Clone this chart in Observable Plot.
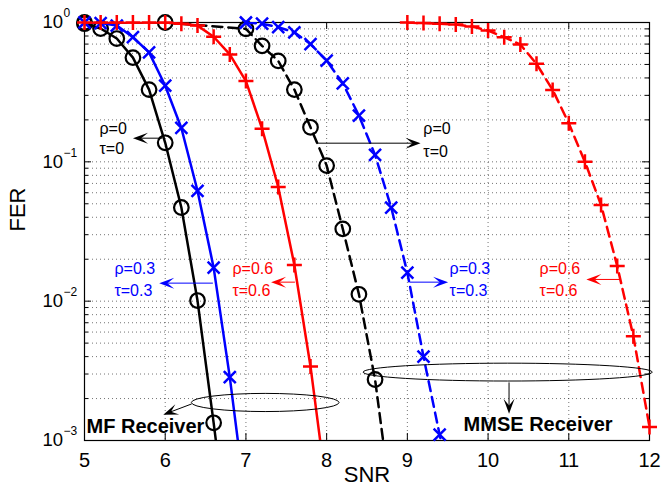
<!DOCTYPE html>
<html>
<head>
<meta charset="utf-8">
<script src="https://cdn.jsdelivr.net/npm/d3@7"></script>
<script src="https://cdn.jsdelivr.net/npm/@observablehq/plot@0.6"></script>
<style>
  html, body { margin: 0; padding: 0; background: #fff; }
</style>
</head>
<body>
<div id="chart"></div>
<script>
// ---------- data ----------
const xTicks = [5, 6, 7, 8, 9, 10, 11, 12];
const xTickLabels = ["5", "6", "7", "8", "9", "10", "11", "12"];
const yMajor = [0.001, 0.01, 0.1, 1];
const yExpLabels = ["\u22123", "\u22122", "\u22121", "0"];
const yMinor = [0.002, 0.003, 0.004, 0.005, 0.006, 0.007, 0.008, 0.009,
                0.02, 0.03, 0.04, 0.05, 0.06, 0.07, 0.08, 0.09,
                0.2, 0.3, 0.4, 0.5, 0.6, 0.7, 0.8, 0.9];

// MF receiver, rho = tau = 0 (black solid, circles)
const snrMF0 = [5.0, 5.2, 5.4, 5.6, 5.8, 6.0, 6.2, 6.4, 6.6, 6.8];
const ferMF0 = [0.98, 0.905, 0.767, 0.56, 0.33, 0.137, 0.047, 0.0101, 0.00134, 0.00016];
// MF receiver, rho = tau = 0.3 (blue solid, x)
const snrMF3 = [5.0, 5.2, 5.4, 5.6, 5.8, 6.0, 6.2, 6.4, 6.6, 6.8, 7.0];
const ferMF3 = [1.0, 0.99, 0.95, 0.784, 0.61, 0.352, 0.175, 0.062, 0.0174, 0.00285, 0.00035];
// MF receiver, rho = tau = 0.6 (red solid, +)
const snrMF6 = [5.0, 5.2, 5.4, 5.6, 5.8, 6.0, 6.2, 6.4, 6.6, 6.8, 7.0, 7.2, 7.4, 7.6, 7.8, 8.0];
const ferMF6 = [1.0, 1.0, 1.0, 1.0, 1.0, 1.0, 0.98, 0.95, 0.79, 0.59, 0.38, 0.173, 0.066, 0.0182, 0.0034, 0.00044];
// MMSE receiver, rho = tau = 0 (black dashed, circles)
const snrMM0 = [5.0, 6.0, 7.0, 7.2, 7.4, 7.6, 7.8, 8.0, 8.2, 8.4, 8.6, 8.8];
const ferMM0 = [1.0, 1.0, 0.9, 0.68, 0.53, 0.33, 0.177, 0.094, 0.033, 0.0112, 0.00274, 0.00036];
// MMSE receiver, rho = tau = 0.3 (blue dashed, x)
const snrMM3 = [7.0, 7.2, 7.4, 7.6, 7.8, 8.0, 8.2, 8.4, 8.6, 8.8, 9.0, 9.2, 9.4, 9.6];
const ferMM3 = [1.0, 0.98, 0.925, 0.85, 0.70, 0.533, 0.366, 0.215, 0.112, 0.047, 0.016, 0.0040, 0.0011, 0.0003];
// MMSE receiver, rho = tau = 0.6 (red dashed, +)
const snrMM6 = [9.0, 9.2, 9.4, 9.6, 9.8, 10.0, 10.2, 10.4, 10.6, 10.8, 11.0, 11.2, 11.4, 11.6, 11.8, 12.0];
const ferMM6 = [1.0, 0.99, 0.979, 0.967, 0.936, 0.876, 0.784, 0.695, 0.505, 0.328, 0.189, 0.100, 0.049, 0.0179, 0.0056, 0.00125];

// annotation texts (data coordinates)
const noteText = ["\u03c1=0", "\u03c4=0", "\u03c1=0", "\u03c4=0",
                  "\u03c1=0.3", "\u03c4=0.3", "\u03c1=0.6", "\u03c4=0.6",
                  "\u03c1=0.3", "\u03c4=0.3", "\u03c1=0.6", "\u03c4=0.6"];
const noteX = [5.186, 5.186, 9.198, 9.198, 5.371, 5.371, 6.833, 6.833, 9.523, 9.523, 10.638, 10.638];
const noteY = [0.173, 0.124, 0.1715, 0.117, 0.01695, 0.01184, 0.01695, 0.01184, 0.01695, 0.01184, 0.01695, 0.01184];
const noteColor = ["black", "black", "black", "black", "blue", "blue", "red", "red", "blue", "blue", "red", "red"];

const rxText = ["MF Receiver", "MMSE Receiver"];
const rxX = [5.025, 9.697];
const rxY = [0.00126, 0.00131];

// annotation arrows (data coordinates)
const arrowX1 = [5.97, 7.9, 6.597, 7.613, 9.037, 11.637, 6.334, 10.266];
const arrowY1 = [0.1466, 0.135, 0.01336, 0.01358, 0.01358, 0.0142, 0.001815, 0.00259];
const arrowX2 = [5.607, 9.17, 5.932, 7.318, 9.511, 11.224, 5.982, 10.266];
const arrowY2 = [0.1466, 0.135, 0.01336, 0.01358, 0.01358, 0.0142, 0.00152, 0.00154];
const arrowColor = ["black", "black", "blue", "red", "blue", "red", "black", "black"];

// annotation ellipses (data-space bounding boxes)
const ellX1 = [6.33, 8.458];
const ellX2 = [8.16, 12.04];
const ellYLow = [0.0016, 0.00265];
const ellYHigh = [0.00216, 0.00356];

// ---------- helpers ----------
const zip = (xs, ys) => xs.map((x, i) => ({snr: x, fer: ys[i]}));
const plusSym = {draw(ctx, size) { const r = Math.sqrt(size / Math.PI); ctx.moveTo(-r, 0); ctx.lineTo(r, 0); ctx.moveTo(0, -r); ctx.lineTo(0, r); }};
const timesSym = {draw(ctx, size) { const r = Math.sqrt(size / Math.PI); ctx.moveTo(-r, -r); ctx.lineTo(r, r); ctx.moveTo(-r, r); ctx.lineTo(r, -r); }};

const series = [
  {d: zip(snrMM0, ferMM0), color: "black", dash: "10,6", kind: "circle"},
  {d: zip(snrMM3, ferMM3), color: "blue",  dash: "10,6", kind: "times"},
  {d: zip(snrMM6, ferMM6), color: "red",   dash: "10,6", kind: "plus"},
  {d: zip(snrMF0, ferMF0), color: "black", dash: null,   kind: "circle"},
  {d: zip(snrMF3, ferMF3), color: "blue",  dash: null,   kind: "times"},
  {d: zip(snrMF6, ferMF6), color: "red",   dash: null,   kind: "plus"}
];

const W = 662, H = 493, mL = 84, mR = 13, mT = 22, mB = 53;
const plotW = W - mL - mR, plotH = H - mT - mB;

const inDomain = d => d.fer >= 0.001;
const seriesMarks = series.flatMap(s => {
  const line = Plot.line(s.d, {x: "snr", y: "fer", stroke: s.color, strokeWidth: 2.5,
    strokeDasharray: s.dash || undefined, clip: true});
  let dot;
  if (s.kind === "circle") dot = Plot.dot(s.d, {x: "snr", y: "fer", filter: inDomain, r: 7.3, stroke: s.color, strokeWidth: 2.2, fill: "none"});
  else if (s.kind === "times") dot = Plot.dot(s.d, {x: "snr", y: "fer", filter: inDomain, r: 6, symbol: timesSym, stroke: s.color, strokeWidth: 2.5, fill: "none"});
  else dot = Plot.dot(s.d, {x: "snr", y: "fer", filter: inDomain, r: 7.5, symbol: plusSym, stroke: s.color, strokeWidth: 2.5, fill: "none"});
  return [line, dot];
});

const ellipseMark = (index, scales) => {
  const g = d3.create("svg:g");
  ellX1.forEach((_, i) => {
    const a = scales.x(ellX1[i]), b = scales.x(ellX2[i]);
    const c = scales.y(ellYLow[i]), e = scales.y(ellYHigh[i]);
    g.append("ellipse")
      .attr("cx", (a + b) / 2).attr("cy", (c + e) / 2)
      .attr("rx", Math.abs(b - a) / 2).attr("ry", Math.abs(c - e) / 2)
      .attr("fill", "none").attr("stroke", "black").attr("stroke-width", 1);
  });
  return g.node();
};

const arrowMark = (index, scales) => {
  const g = d3.create("svg:g");
  arrowX1.forEach((_, i) => {
    const x1 = scales.x(arrowX1[i]), y1 = scales.y(arrowY1[i]);
    const x2 = scales.x(arrowX2[i]), y2 = scales.y(arrowY2[i]);
    const ang = Math.atan2(y2 - y1, x2 - x1);
    const cs = Math.cos(ang), sn = Math.sin(ang);
    const L = 15, Wd = 11, N = 0.55;
    const bx = x2 - L * cs, by = y2 - L * sn;
    const nx = x2 - N * L * cs, ny = y2 - N * L * sn;
    g.append("line").attr("x1", x1).attr("y1", y1).attr("x2", nx).attr("y2", ny)
      .attr("stroke", arrowColor[i]).attr("stroke-width", 1);
    const pts = [[x2, y2], [bx - sn * Wd / 2, by + cs * Wd / 2], [nx, ny], [bx + sn * Wd / 2, by - cs * Wd / 2]];
    g.append("polygon").attr("points", pts.map(p => p.join(",")).join(" "))
      .attr("fill", arrowColor[i]).attr("stroke", "none");
  });
  return g.node();
};

const dotted = {stroke: "#000", strokeWidth: 1, strokeDasharray: "1,3", strokeOpacity: 0.55};

const chart = Plot.plot({
  width: W, height: H,
  marginLeft: mL, marginRight: mR, marginTop: mT, marginBottom: mB,
  style: {fontFamily: "'Liberation Sans', Arial, Helvetica, sans-serif", fontSize: "20px", background: "#fff", color: "#000", overflow: "visible"},
  x: {domain: [5, 12], ticks: xTicks, tickFormat: (d, i) => xTickLabels[xTicks.indexOf(d)], tickSize: 0, tickPadding: 12, label: null},
  y: {type: "log", domain: [0.001, 1], axis: null},
  marks: [
    // grid
    Plot.ruleX(xTicks, dotted),
    Plot.ruleY(yMajor.concat(yMinor), dotted),
    // frame and inward ticks
    Plot.frame({stroke: "black", strokeWidth: 1.2}),
    Plot.ruleX(xTicks, {stroke: "black", insetBottom: plotH - 7}),
    Plot.ruleX(xTicks, {stroke: "black", insetTop: plotH - 7}),
    Plot.ruleY(yMajor, {stroke: "black", insetRight: plotW - 7}),
    Plot.ruleY(yMajor, {stroke: "black", insetLeft: plotW - 7}),
    Plot.ruleY(yMinor, {stroke: "black", insetRight: plotW - 4}),
    Plot.ruleY(yMinor, {stroke: "black", insetLeft: plotW - 4}),
    // series
    ...seriesMarks,
    // y tick labels 10^k
    Plot.text(yMajor, {y: d => d, frameAnchor: "left", text: () => "10", dx: -42, textAnchor: "start", fontSize: 18.5, fill: "black"}),
    Plot.text(yMajor, {y: d => d, frameAnchor: "left", text: yExpLabels, dx: -21, dy: -9, textAnchor: "start", fontSize: 12, fill: "black"}),
    // axis labels
    Plot.text(["FER"], {frameAnchor: "left", text: d => d, rotate: -90, dx: -67, fontSize: 22, fill: "black"}),
    Plot.text(["SNR"], {frameAnchor: "bottom", text: d => d, dy: 41, fontSize: 22, fill: "black"}),
    // annotations
    ellipseMark,
    arrowMark,
    Plot.text(noteText, {x: noteX, y: noteY, text: noteText, fill: noteColor, textAnchor: "start", fontSize: 16}),
    Plot.text(rxText, {x: rxX, y: rxY, text: rxText, textAnchor: "start", fontSize: 20, fontWeight: "bold", fill: "black"})
  ]
});

document.getElementById("chart").appendChild(chart);
</script>
</body>
</html>
